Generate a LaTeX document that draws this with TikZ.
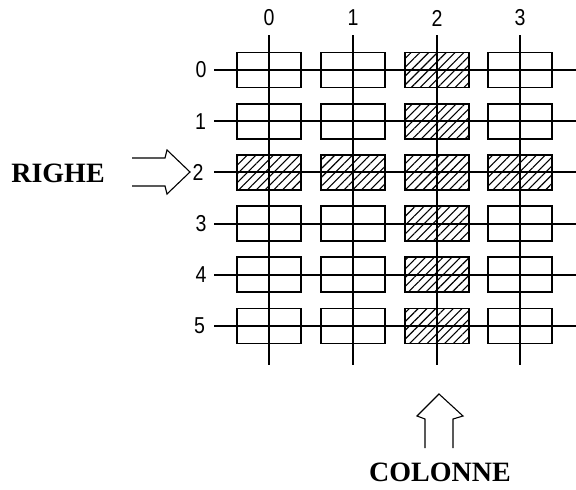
\documentclass[tikz,border=0pt]{standalone}
\usepackage{fontspec}
\setmainfont{Liberation Serif}
\newfontfamily\digitfont[FakeStretch=0.85]{Liberation Sans}
\usetikzlibrary{patterns.meta}
\begin{document}
\begin{tikzpicture}[x=1pt,y=-1pt,
  gridline/.style={line width=2},
  cell/.style={draw, line width=1.8, minimum width=64, minimum height=35, inner sep=0},
  hatched/.style={cell, pattern={Lines[angle=45,distance=6.2pt,line width=1.1pt]}, pattern color=black},
  numlabel/.style={font=\digitfont\fontsize{23}{23}\selectfont, inner sep=0},
  bigtext/.style={font=\bfseries\fontsize{28}{28}\selectfont, inner sep=0, text height=19pt, text depth=0pt},
  arrowoutline/.style={line width=1.1, line join=miter}]
\useasboundingbox (0,0) rectangle (576,490);
% column labels and vertical lines
\foreach \c/\x in {0/269,1/353,2/437,3/520}{
  \node[numlabel] (cl\c) at (\x,18) {\c};
  \coordinate (vt\c) at (\x,35);
  \coordinate (vb\c) at (\x,365);
  \draw[gridline] (vt\c) -- (vb\c);
}
% row labels and horizontal lines
\foreach \r/\y/\lx in {0/70/201,1/121.2/200.5,2/172.4/198,3/223.6/201,4/274.8/201,5/326/199.5}{
  \node[numlabel] (rl\r) at (\lx,\y) {\r};
  \coordinate (hl\r) at (214,\y);
  \coordinate (hr\r) at (576,\y);
  \draw[gridline] (hl\r) -- (hr\r);
}
% cells
\foreach \r/\y in {0/70,1/121.2,2/172.4,3/223.6,4/274.8,5/326}{
  \foreach \c/\x in {0/269,1/353,2/437,3/520}{
    \ifnum\c=2
      \node[hatched] (b\r\c) at (\x,\y) {};
    \else\ifnum\r=2
      \node[hatched] (b\r\c) at (\x,\y) {};
    \else
      \node[cell] (b\r\c) at (\x,\y) {};
    \fi\fi
  }
}
% RIGHE and its arrow
\node[bigtext] (righe) at (58,173) {RIGHE};
\coordinate (ra1) at (132,158);
\coordinate (ra2) at (165,158);
\coordinate (ra3) at (167,150);
\coordinate (ratip) at (190,172);
\coordinate (ra5) at (167,194);
\coordinate (ra6) at (165,186);
\coordinate (ra7) at (132,186);
\draw[arrowoutline] (ra1) -- (ra2) -- (ra3) -- (ratip) -- (ra5) -- (ra6) -- (ra7);
% COLONNE and its arrow
\node[bigtext] (colonne) at (440,472) {COLONNE};
\coordinate (ua1) at (425,448);
\coordinate (ua2) at (425,419);
\coordinate (ua3) at (417,416);
\coordinate (uatip) at (439,394);
\coordinate (ua5) at (463,416);
\coordinate (ua6) at (453,419);
\coordinate (ua7) at (453,448);
\draw[arrowoutline] (ua1) -- (ua2) -- (ua3) -- (uatip) -- (ua5) -- (ua6) -- (ua7);
\end{tikzpicture}
\end{document}
